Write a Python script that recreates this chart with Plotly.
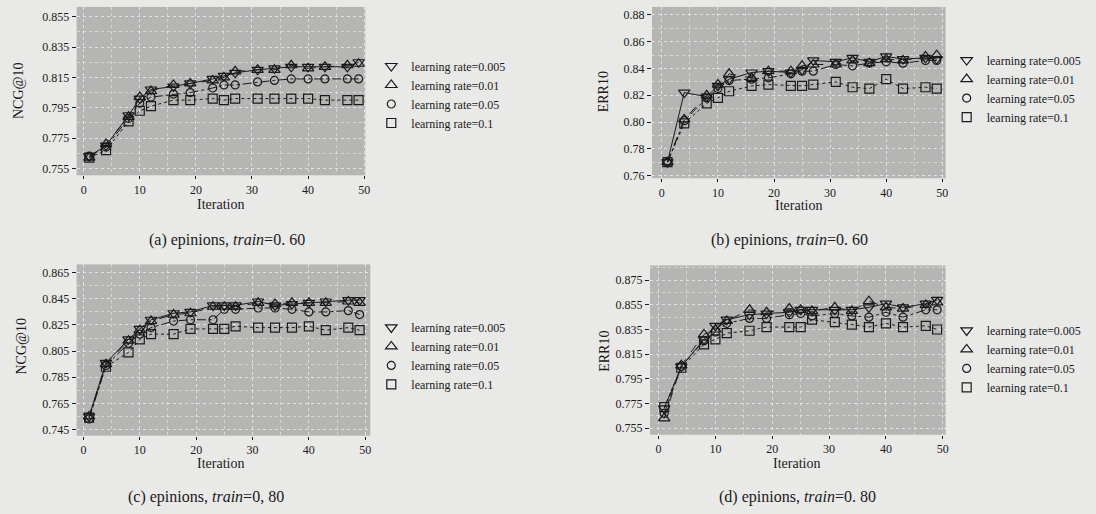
import plotly.graph_objects as go

iterations = [1, 4, 8, 10, 12, 16, 19, 23, 25, 27, 31, 34, 37, 40, 43, 47, 49]
series_names = ["learning rate=0.005", "learning rate=0.01", "learning rate=0.05", "learning rate=0.1"]

# (a) NCG@10, train=0.60
a_lr0005 = [0.763, 0.770, 0.790, 0.801, 0.807, 0.809, 0.811, 0.814, 0.816, 0.818, 0.820, 0.821, 0.822, 0.822, 0.822, 0.822, 0.825]
a_lr001 = [0.762, 0.771, 0.789, 0.802, 0.806, 0.810, 0.811, 0.813, 0.815, 0.819, 0.820, 0.820, 0.823, 0.821, 0.822, 0.823, 0.824]
a_lr005 = [0.763, 0.769, 0.788, 0.798, 0.802, 0.804, 0.805, 0.808, 0.810, 0.810, 0.812, 0.813, 0.814, 0.814, 0.814, 0.814, 0.814]
a_lr01 = [0.762, 0.767, 0.786, 0.793, 0.796, 0.800, 0.800, 0.801, 0.800, 0.801, 0.801, 0.801, 0.801, 0.801, 0.800, 0.800, 0.800]

# (b) ERR10, train=0.60
b_lr0005 = [0.770, 0.822, 0.819, 0.827, 0.832, 0.837, 0.838, 0.837, 0.839, 0.846, 0.845, 0.848, 0.845, 0.849, 0.847, 0.848, 0.847]
b_lr001 = [0.770, 0.802, 0.820, 0.828, 0.836, 0.833, 0.838, 0.838, 0.842, 0.843, 0.843, 0.846, 0.844, 0.847, 0.846, 0.849, 0.850]
b_lr005 = [0.770, 0.801, 0.818, 0.825, 0.831, 0.832, 0.833, 0.836, 0.838, 0.838, 0.843, 0.842, 0.844, 0.845, 0.844, 0.846, 0.846]
b_lr01 = [0.770, 0.799, 0.814, 0.818, 0.823, 0.827, 0.828, 0.827, 0.827, 0.828, 0.830, 0.826, 0.825, 0.832, 0.825, 0.826, 0.825]

# (c) NCG@10, train=0.80
c_lr0005 = [0.755, 0.796, 0.814, 0.822, 0.829, 0.834, 0.835, 0.840, 0.840, 0.840, 0.843, 0.840, 0.841, 0.842, 0.843, 0.844, 0.844]
c_lr001 = [0.755, 0.795, 0.813, 0.821, 0.828, 0.833, 0.834, 0.839, 0.839, 0.839, 0.842, 0.841, 0.842, 0.842, 0.842, 0.843, 0.842]
c_lr005 = [0.753, 0.794, 0.811, 0.818, 0.823, 0.828, 0.829, 0.829, 0.837, 0.837, 0.838, 0.838, 0.837, 0.835, 0.835, 0.836, 0.833]
c_lr01 = [0.754, 0.793, 0.804, 0.814, 0.818, 0.818, 0.822, 0.822, 0.822, 0.824, 0.823, 0.823, 0.823, 0.824, 0.821, 0.823, 0.821]

# (d) ERR10, train=0.80
d_lr0005 = [0.771, 0.805, 0.827, 0.838, 0.843, 0.847, 0.848, 0.849, 0.851, 0.851, 0.851, 0.851, 0.853, 0.856, 0.853, 0.856, 0.859]
d_lr001 = [0.763, 0.806, 0.831, 0.835, 0.842, 0.851, 0.849, 0.852, 0.851, 0.850, 0.853, 0.850, 0.858, 0.853, 0.852, 0.855, 0.857]
d_lr005 = [0.767, 0.805, 0.826, 0.833, 0.840, 0.844, 0.844, 0.847, 0.848, 0.846, 0.848, 0.846, 0.845, 0.849, 0.845, 0.851, 0.851]
d_lr01 = [0.772, 0.804, 0.823, 0.827, 0.832, 0.834, 0.837, 0.837, 0.837, 0.843, 0.841, 0.839, 0.837, 0.840, 0.837, 0.838, 0.835]

y_titles = ["NCG@10", "ERR10", "NCG@10", "ERR10"]
captions = ["(a) epinions, <i>train</i>=0. 60", "(b) epinions, <i>train</i>=0. 60",
            "(c) epinions, <i>train</i>=0, 80", "(d) epinions, <i>train</i>=0. 80"]
x_title = "Iteration"

W, H = 1096, 514
FONT = "Liberation Serif"
INK = "#1a1a1a"
PLOT_BG = "#b5b5b3"
PAPER_BG = "#e9e9e7"
GRID = "rgba(255,255,255,0.6)"
GRID_MINOR = "rgba(255,255,255,0.45)"
DASH = "3px,3px"

symbols = ["triangle-down-open", "triangle-up-open", "circle-open", "square-open"]
sizes = [10, 10, 8, 9]
dashes = ["solid", "dash", "dashdot", "dot"]

panels = [
    dict(data=[a_lr0005, a_lr001, a_lr005, a_lr01], px=(77, 367), py=(7, 177), yr=[0.7504, 0.8615],
         ticks=[0.755, 0.775, 0.795, 0.815, 0.835, 0.855], fmt=".3f", xr=[-1.25, 50.2],
         leg=(373, 52), ytitle_pos=(18, 92), xtitle_pos=(222, 207), cap_pos=(228, 242)),
    dict(data=[b_lr0005, b_lr001, b_lr005, b_lr01], px=(655, 950), py=(7, 180), yr=[0.758, 0.886],
         ticks=[0.76, 0.78, 0.80, 0.82, 0.84, 0.86, 0.88], fmt=".2f", xr=[-1.75, 50.6],
         leg=(951, 46), ytitle_pos=(606, 93), xtitle_pos=(802, 208), cap_pos=(793, 242)),
    dict(data=[c_lr0005, c_lr001, c_lr005, c_lr01], px=(77, 372), py=(267, 440), yr=[0.7402, 0.8714],
         ticks=[0.745, 0.765, 0.785, 0.805, 0.825, 0.845, 0.865], fmt=".3f", xr=[-1.2, 50.9],
         leg=(373, 316), ytitle_pos=(22, 350), xtitle_pos=(222, 468), cap_pos=(207, 502)),
    dict(data=[d_lr0005, d_lr001, d_lr005, d_lr01], px=(653, 950), py=(268, 439), yr=[0.7497, 0.887],
         ticks=[0.755, 0.775, 0.795, 0.815, 0.835, 0.855, 0.875], fmt=".3f", xr=[-1.5, 50.5],
         leg=(951, 319), ytitle_pos=(607, 355), xtitle_pos=(800, 468), cap_pos=(801, 502)),
]

fig = go.Figure()
annotations = []
layout_axes = {}

for i, p in enumerate(panels):
    k = "" if i == 0 else str(i + 1)
    xa, ya = "x" + k, "y" + k
    legname = "legend" + k
    for j, vals in enumerate(p["data"]):
        fig.add_trace(go.Scatter(
            x=iterations, y=vals, xaxis=xa, yaxis=ya, mode="lines+markers",
            line=dict(color=INK, width=1, dash=dashes[j]),
            marker=dict(symbol=symbols[j], size=sizes[j], color=INK, line=dict(width=1.2, color=INK)),
            showlegend=False, name=series_names[j]))
    for j in range(4):
        fig.add_trace(go.Scatter(
            x=[None], y=[None], xaxis=xa, yaxis=ya, mode="markers",
            marker=dict(symbol=symbols[j], size=sizes[j], color=INK, line=dict(width=1.2, color=INK)),
            name=series_names[j], legend=legname, showlegend=True))

    step = p["ticks"][1] - p["ticks"][0]
    layout_axes["xaxis" + k] = dict(
        domain=[p["px"][0] / W, p["px"][1] / W], anchor=ya, range=p["xr"],
        tickvals=[0, 10, 20, 30, 40, 50], ticks="outside", ticklen=3, tickcolor=INK,
        showgrid=True, gridcolor=GRID, griddash=DASH, gridwidth=1,
        minor=dict(tickvals=[5, 15, 25, 35, 45], showgrid=True, gridcolor=GRID_MINOR,
                   griddash=DASH, gridwidth=1, ticks=""),
        zeroline=False, showline=False, tickfont=dict(family=FONT, size=12, color=INK))
    minor_vals = [t + step / 2 for t in p["ticks"]] + [p["ticks"][0] - step / 2]
    layout_axes["yaxis" + k] = dict(
        domain=[1 - p["py"][1] / H, 1 - p["py"][0] / H], anchor=xa, range=p["yr"],
        tickvals=p["ticks"], tickformat=p["fmt"], ticks="outside", ticklen=4, tickcolor=INK,
        showgrid=True, gridcolor=GRID, griddash=DASH, gridwidth=1,
        minor=dict(tickvals=minor_vals, showgrid=True, gridcolor=GRID_MINOR,
                   griddash=DASH, gridwidth=1, ticks=""),
        zeroline=False, showline=False, tickfont=dict(family=FONT, size=12, color=INK))
    layout_axes[legname] = dict(
        x=p["leg"][0] / W, y=1 - p["leg"][1] / H, xanchor="left", yanchor="top",
        bgcolor="rgba(0,0,0,0)", font=dict(family=FONT, size=12, color=INK),
        itemwidth=30, tracegroupgap=0)

    annotations.append(dict(text=y_titles[i], x=p["ytitle_pos"][0] / W, y=1 - p["ytitle_pos"][1] / H,
                            xref="paper", yref="paper", showarrow=False, textangle=-90,
                            xanchor="center", yanchor="middle",
                            font=dict(family=FONT, size=14, color=INK)))
    annotations.append(dict(text=x_title, x=p["xtitle_pos"][0] / W, y=1 - p["xtitle_pos"][1] / H,
                            xref="paper", yref="paper", showarrow=False,
                            xanchor="center", yanchor="middle",
                            font=dict(family=FONT, size=14, color=INK)))
    annotations.append(dict(text=captions[i], x=p["cap_pos"][0] / W, y=1 - p["cap_pos"][1] / H,
                            xref="paper", yref="paper", showarrow=False,
                            xanchor="center", yanchor="middle",
                            font=dict(family=FONT, size=16, color=INK)))

fig.update_layout(
    width=W, height=H, margin=dict(l=0, r=0, t=0, b=0),
    paper_bgcolor=PAPER_BG, plot_bgcolor=PLOT_BG,
    annotations=annotations, **layout_axes)

fig.write_html("out.html", config={"displayModeBar": False},
               post_script="document.body.style.margin='0';document.body.style.overflow='hidden';")
